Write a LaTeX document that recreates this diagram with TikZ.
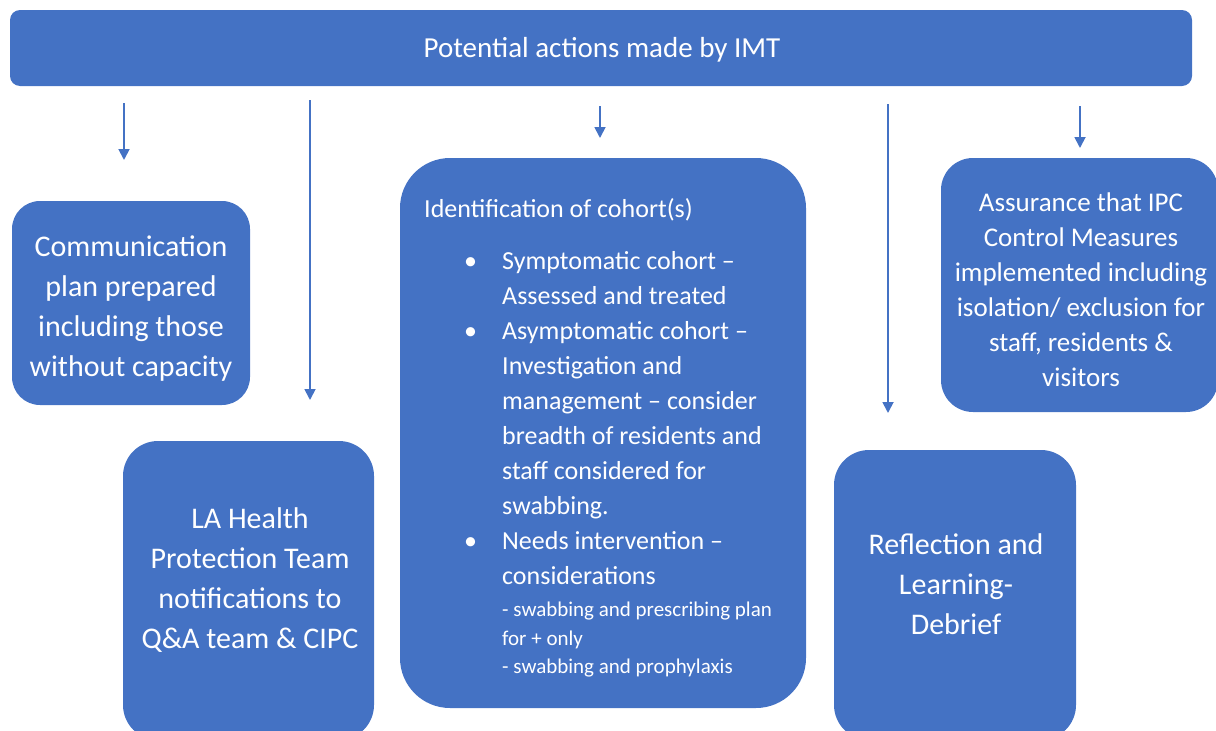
\documentclass[tikz,border=0pt]{standalone}
\usepackage{fontspec}
\setmainfont{Carlito}
\usetikzlibrary{arrows.meta}

\definecolor{imtblue}{HTML}{4472C4}

\tikzset{
  box/.style={fill=imtblue, rounded corners=#1, inner sep=0pt},
  box/.default=32pt,
  txt/.style={text=white, align=center, inner sep=0pt, font=\fontsize{30}{40}\selectfont},
  arr/.style={draw=imtblue, line width=1.8pt, -{Triangle[width=11pt,length=11pt]}}
}

\begin{document}
\begin{tikzpicture}[x=1pt,y=-1pt]
\useasboundingbox (0,0) rectangle (1216,731);

% header bar
\node [box=10pt, minimum width=1182pt, minimum height=76pt] (imt) at (601,48) {};
\node [txt, font=\fontsize{29}{36}\selectfont] (imttxt) at (602,50) {Potential actions made by IMT};

% action boxes
\node [box=28pt, minimum width=238pt, minimum height=204pt] (comm) at (131,303) {};
\node [txt] (commtxt) at (131,309) {Communication\\plan prepared\\including those\\without capacity};
\node [box=35pt, minimum width=251pt, minimum height=299pt] (lahp) at (248.5,590.5) {};
\node [txt] (lahptxt) at (250,580) {LA Health\\Protection Team\\notifications to\\Q\&A team \& CIPC};
\node [box=50pt, minimum width=406pt, minimum height=550pt] (cohort) at (603,433) {};
\node [box=35pt, minimum width=242pt, minimum height=290pt] (reflect) at (955,595) {};
\node [txt] (reflecttxt) at (956,584) {Reflection and\\Learning-\\Debrief};
\node [box=32pt, minimum width=277pt, minimum height=254pt] (assure) at (1079.5,285) {};
\node [txt, font=\fontsize{27}{35}\selectfont] (assuretxt) at (1081,290)
  {Assurance that IPC\\Control Measures\\implemented including\\isolation/ exclusion for\\staff, residents \&\\visitors};

% cohort list
\node [anchor=base west, text=white, inner sep=0pt, font=\fontsize{26}{35}\selectfont] (cohorttxt) at (424,217) {%
  \begin{tabular}[t]{@{}p{78pt}@{}l@{}}
  \multicolumn{2}{@{}l@{}}{Identification of cohort(s)}\\[17pt]
  \hspace*{40pt}• & Symptomatic cohort –\\
   & Assessed and treated\\
  \hspace*{40pt}• & Asymptomatic cohort –\\
   & Investigation and\\
   & management – consider\\
   & breadth of residents and\\
   & staff considered for\\
   & swabbing.\\
  \hspace*{40pt}• & Needs intervention –\\
   & considerations\\[-3pt]
   & {\fontsize{21}{29}\selectfont - swabbing and prescribing plan}\\[-6pt]
   & {\fontsize{21}{29}\selectfont for + only}\\[-7pt]
   & {\fontsize{21}{29}\selectfont - swabbing and prophylaxis}
  \end{tabular}};

% arrow ends
\coordinate (c1s) at (124,103);  \coordinate (c1e) at (124,160);
\coordinate (c2s) at (310,100);  \coordinate (c2e) at (310,400);
\coordinate (c3s) at (600,106);  \coordinate (c3e) at (600,138);
\coordinate (c4s) at (888,104);  \coordinate (c4e) at (888,413);
\coordinate (c5s) at (1080,106); \coordinate (c5e) at (1080,148);

\draw [arr] (c1s) -- (c1e);
\draw [arr] (c2s) -- (c2e);
\draw [arr] (c3s) -- (c3e);
\draw [arr] (c4s) -- (c4e);
\draw [arr] (c5s) -- (c5e);
\end{tikzpicture}
\end{document}
